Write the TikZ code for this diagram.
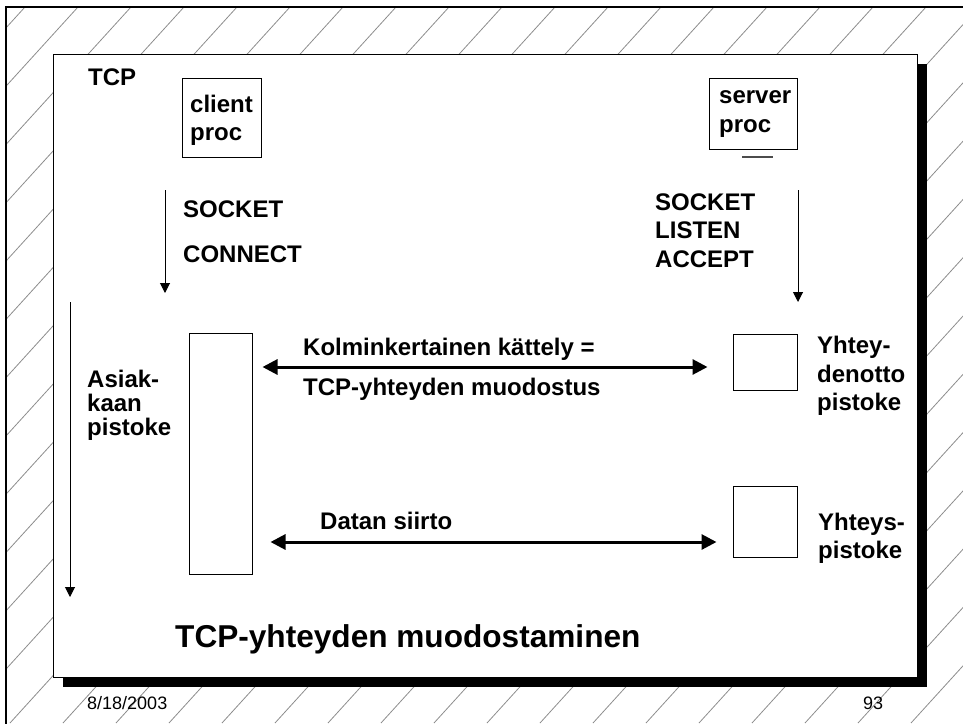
\documentclass[tikz,border=0pt]{standalone}
\usepackage{fontspec}
\setmainfont{Liberation Sans}
\usetikzlibrary{arrows.meta}
\begin{document}
\begin{tikzpicture}[x=1pt,y=-1pt,
  lbl/.style={anchor=base west,inner sep=0pt,font=\fontsize{24}{28}\selectfont\bfseries},
  foot/.style={anchor=base west,inner sep=0pt,font=\fontsize{18}{20}\selectfont},
  boxnode/.style={draw,line width=1pt,inner sep=0pt,fill=white},
  thinarrow/.style={line width=1pt,-{Triangle[length=10pt,width=10pt]}},
  biarrow/.style={line width=3pt,{Triangle[length=15pt,width=15pt]}-{Triangle[length=15pt,width=15pt]}},
  hatch/.style={black!45,line width=0.8pt}
]
\useasboundingbox (0,0) rectangle (963,723);
% background hatching
\begin{scope}
  \clip (7,8) rectangle (963,723);
  \foreach \k in {-13,...,30}{
    \pgfmathsetmacro{\c}{25+53*\k}
    \draw[hatch] ({\c-651},723) -- ({\c+10},-4);
  }
\end{scope}
% outer frame
\draw[line width=2pt] (6,740) -- (6,7) -- (980,7);
% panel with shadow
\fill[black] (63,64) rectangle (927,687);
\draw[line width=1pt,fill=white] (53,54) rectangle (917,677);

% boxes
\node[boxnode,minimum width=79pt,minimum height=79pt] (client) at (221.5,117.5) {};
\node[boxnode,minimum width=88pt,minimum height=71pt] (server) at (753,113.5) {};
\node[boxnode,minimum width=63pt,minimum height=241pt] (asiak) at (220.5,453.5) {};
\node[boxnode,minimum width=64pt,minimum height=56pt] (listen) at (765,362) {};
\node[boxnode,minimum width=64pt,minimum height=71pt] (conn) at (765,521.5) {};
\draw[black!70,line width=1.5pt] (742,157) -- (773,157);

% texts
\node[lbl] (tcp) at (88,85) {TCP};
\node[lbl] (cl1) at (190,112) {client};
\node[lbl] (cl2) at (190,140) {proc};
\node[lbl] (sv1) at (719,103) {server};
\node[lbl] (sv2) at (719,132) {proc};
\node[lbl] (cs1) at (183,217) {SOCKET};
\node[lbl] (cs2) at (183,262) {CONNECT};
\node[lbl] (ss1) at (655,210) {SOCKET};
\node[lbl] (ss2) at (655,238) {LISTEN};
\node[lbl] (ss3) at (655,267) {ACCEPT};
\node[lbl] (as1) at (87,387) {Asiak-};
\node[lbl] (as2) at (87,411) {kaan};
\node[lbl] (as3) at (87,435) {pistoke};
\node[lbl] (ko1) at (303,355) {Kolminkertainen kättely =};
\node[lbl] (ko2) at (303,395) {TCP-yhteyden muodostus};
\node[lbl] (yd1) at (817,353) {Yhtey-};
\node[lbl] (yd2) at (817,382) {denotto};
\node[lbl] (yd3) at (817,410) {pistoke};
\node[lbl] (ds) at (320,529) {Datan siirto};
\node[lbl] (yp1) at (818,530) {Yhteys-};
\node[lbl] (yp2) at (818,558) {pistoke};
\node[anchor=base west,inner sep=0pt,font=\fontsize{31.6}{36}\selectfont\bfseries] (title) at (175,647) {TCP-yhteyden muodostaminen};
\node[foot] (date) at (87,709) {8/18/2003};
\node[foot] (page) at (863,709) {93};

% connectors
\coordinate (ca1) at (165,190);
\coordinate (ca2) at (165,293);
\coordinate (sa1) at (798,190);
\coordinate (sa2) at (798,302);
\coordinate (la1) at (70,302);
\coordinate (la2) at (70,597);
\draw[thinarrow] (ca1) -- (ca2);
\draw[thinarrow] (sa1) -- (sa2);
\draw[thinarrow] (la1) -- (la2);
\draw[biarrow] (asiak.east |- 0,367) ++(10,0) -- ([xshift=-25pt]listen.west |- 0,367);
\draw[biarrow] (asiak.east |- 0,542) ++(18,0) -- ([xshift=-16pt]conn.west |- 0,542);
\end{tikzpicture}
\end{document}
